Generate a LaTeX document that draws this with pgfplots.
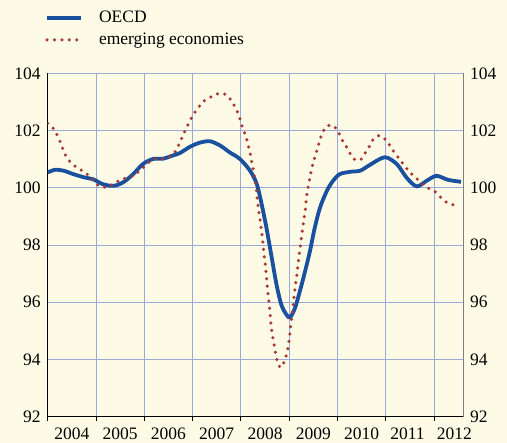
\documentclass[border=0pt]{standalone}
\usepackage{fontspec}
\setmainfont{Liberation Serif}
\usepackage{pgfplots}
\pgfplotsset{compat=1.18}

\definecolor{bgc}{HTML}{FDFBE6}
\definecolor{gridc}{HTML}{9DAAD9}
\definecolor{oecd}{HTML}{1A50A0}
\definecolor{emerg}{HTML}{A93A32}
\newcommand\lblfont{\rmfamily\fontsize{17.5bp}{20bp}\selectfont}

\begin{document}
\begin{tikzpicture}
\fill[bgc] (0,0) rectangle (507bp,443bp);
\begin{axis}[
  at={(47.7bp,26.5bp)}, anchor=south west,
  scale only axis, width=415.3bp, height=343bp,
  xmin=2004, xmax=2012.6, ymin=92, ymax=104,
  axis x line*=bottom, axis y line*=left,
  axis line style={black, line width=0.8bp},
  xtick={2004,...,2012}, xticklabels={},
  xtick align=outside, major tick length=4bp,
  xtick style={black, line width=0.8bp},
  extra x ticks={2004.5,2005.5,2006.5,2007.5,2008.5,2009.5,2010.5,2011.45,2012.42},
  extra x tick labels={2004,2005,2006,2007,2008,2009,2010,2011,2012},
  extra x tick style={major tick length=0pt, grid=none,
    tick label style={yshift=-11bp}},
  ytick={92,94,...,104},
  ytick style={draw=none},
  xmajorgrids, ymajorgrids,
  grid style={gridc, line width=0.8bp},
  tick label style={font=\lblfont, inner sep=0pt},
  yticklabel style={xshift=-7bp},
  /pgf/number format/assume math mode=true,
  legend style={at={(axis description cs:-0.0065,1.182)}, anchor=north west,
    draw=none, fill=none, inner sep=0pt, font=\lblfont,
    row sep=9bp, cells={anchor=west}, nodes={inner sep=0pt}},
  legend image code/.code={\draw[#1] (0bp,0bp) -- (34bp,0bp);},
  /tikz/every odd column/.append style={column sep=16bp},
]
\addplot[oecd, line width=3.8bp, smooth] coordinates {
 (2004.00,100.54) (2004.15,100.63) (2004.33,100.60) (2004.53,100.48) (2004.77,100.36)
 (2004.94,100.30) (2005.14,100.13) (2005.36,100.07) (2005.56,100.19) (2005.77,100.48)
 (2005.97,100.83) (2006.18,101.01) (2006.39,101.02) (2006.59,101.13) (2006.74,101.22)
 (2006.95,101.44) (2007.15,101.58) (2007.36,101.63) (2007.57,101.48) (2007.77,101.24)
 (2007.98,101.01) (2008.19,100.60) (2008.33,100.13) (2008.43,99.43) (2008.53,98.60)
 (2008.64,97.55) (2008.74,96.60) (2008.84,95.90) (2008.95,95.55) (2009.02,95.47)
 (2009.12,95.79) (2009.22,96.37) (2009.33,97.08) (2009.43,97.78) (2009.53,98.60)
 (2009.64,99.31) (2009.78,99.89) (2009.91,100.25) (2010.05,100.48) (2010.26,100.56)
 (2010.47,100.60) (2010.67,100.80) (2010.98,101.07) (2011.23,100.83) (2011.43,100.36)
 (2011.64,100.05) (2011.85,100.25) (2012.05,100.42) (2012.29,100.28) (2012.56,100.21)
};
\addlegendentry{OECD}
\addplot[emerg, line width=3.5bp, line cap=round, dash pattern=on 0pt off 7.4bp, smooth] coordinates {
 (2004.00,102.26) (2004.13,102.05) (2004.20,101.83) (2004.27,101.57) (2004.32,101.33)
 (2004.39,101.07) (2004.50,100.85) (2004.63,100.68) (2004.77,100.54) (2004.89,100.36)
 (2005.00,100.15) (2005.14,100.02) (2005.30,100.07) (2005.44,100.22) (2005.60,100.33)
 (2005.75,100.41) (2005.88,100.56) (2006.00,100.74) (2006.12,100.93) (2006.27,101.03)
 (2006.43,101.02) (2006.59,101.16) (2006.67,101.36) (2006.74,101.60) (2006.81,101.87)
 (2006.88,102.12) (2006.95,102.36) (2007.04,102.62) (2007.13,102.83) (2007.24,103.04)
 (2007.39,103.19) (2007.54,103.30) (2007.69,103.27) (2007.80,103.06) (2007.88,102.83)
 (2007.95,102.57) (2008.00,102.30) (2008.05,102.03) (2008.11,101.77) (2008.15,101.50)
 (2008.19,101.24) (2008.22,100.95) (2008.26,100.60) (2008.31,100.13) (2008.34,99.60)
 (2008.40,98.84) (2008.45,98.20) (2008.48,97.65) (2008.52,97.08) (2008.55,96.49)
 (2008.59,95.90) (2008.62,95.32) (2008.66,94.79) (2008.71,94.30) (2008.75,93.97)
 (2008.82,93.71) (2008.89,93.88) (2008.95,94.20) (2008.99,94.55) (2009.02,94.96)
 (2009.06,95.55) (2009.11,96.30) (2009.16,96.96) (2009.20,97.55) (2009.24,98.07)
 (2009.28,98.60) (2009.33,99.19) (2009.37,99.78) (2009.43,100.36) (2009.49,100.83)
 (2009.55,101.18) (2009.64,101.68) (2009.69,101.93) (2009.78,102.16) (2009.91,102.18)
 (2010.02,101.95) (2010.09,101.69) (2010.18,101.45) (2010.26,101.21) (2010.35,101.00)
 (2010.48,100.98) (2010.57,101.21) (2010.66,101.45) (2010.74,101.69) (2010.87,101.83)
 (2011.00,101.68) (2011.10,101.44) (2011.19,101.21) (2011.29,100.99) (2011.40,100.75)
 (2011.50,100.54) (2011.63,100.34) (2011.74,100.17) (2011.88,99.99) (2012.02,99.87)
 (2012.14,99.66) (2012.27,99.48) (2012.42,99.39)
};
\addlegendentry{emerging economies}
\end{axis}
\begin{axis}[
  at={(47.7bp,26.5bp)}, anchor=south west,
  scale only axis, width=415.3bp, height=343bp,
  xmin=2004, xmax=2012.6, ymin=92, ymax=104,
  axis x line=none, axis y line*=right,
  y axis line style={gray, line width=1bp},
  ytick={92,94,...,104}, ytick style={draw=none},
  tick label style={font=\lblfont, inner sep=0pt},
  yticklabel style={xshift=7bp},
  /pgf/number format/assume math mode=true,
]
\end{axis}
\end{tikzpicture}
\end{document}
